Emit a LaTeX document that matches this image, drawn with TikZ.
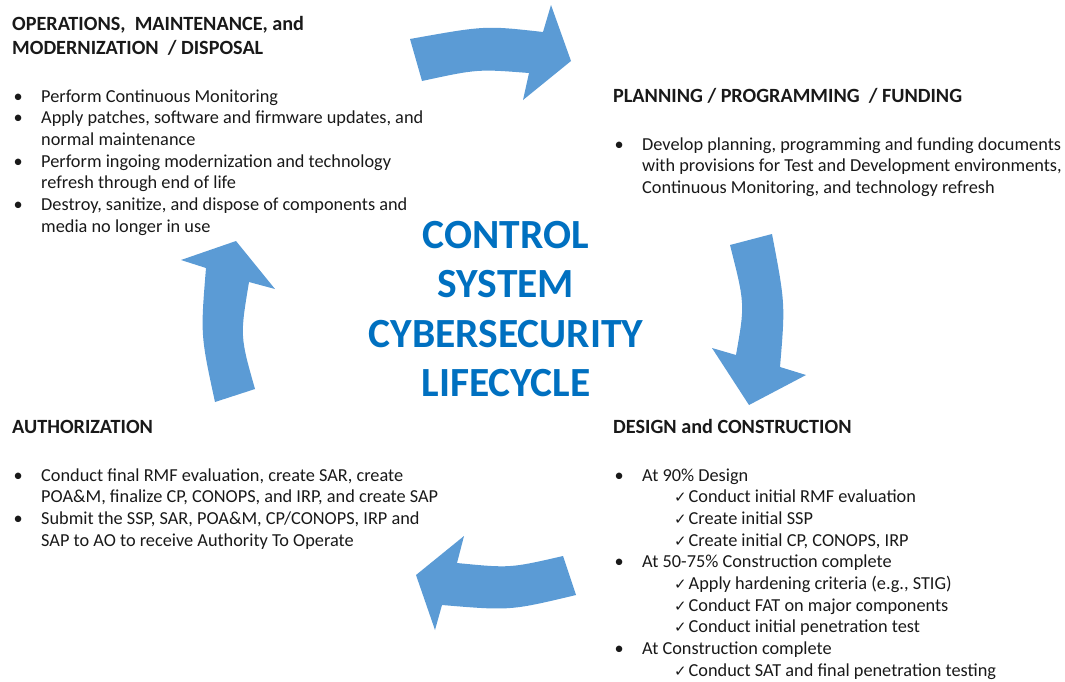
\documentclass[tikz,border=0pt]{standalone}
\usepackage{fontspec}
\setmainfont{Carlito}
\newfontfamily\checkfont{DejaVu Sans}
\definecolor{arrowblue}{HTML}{5B9BD5}
\definecolor{titleblue}{RGB}{0,112,192}
\newcommand{\bul}[1]{\makebox[29pt][l]{\hspace{1.5pt}\textbullet}#1}
\newcommand{\cnt}[1]{\hspace*{29pt}#1}
\newcommand{\chk}[1]{\hspace*{61pt}\makebox[14.5pt][l]{\checkfont\fontsize{15}{15}\selectfont ✓}#1}
\newcommand{\rows}[1]{\begin{tabular}[t]{@{}l@{}}#1\end{tabular}}
\begin{document}
\begin{tikzpicture}[x=1pt,y=-1pt,
  blockarrow/.style={fill=arrowblue,draw=none},
  headtext/.style={anchor=base west,inner sep=0pt,font=\fontsize{20.2}{24}\selectfont\bfseries,text=black!90},
  bodytext/.style={anchor=base west,inner sep=0pt,font=\fontsize{18.3}{21.7}\selectfont,text=black!90},
  titletext/.style={anchor=base,inner sep=0pt,font=\fontsize{41.5}{49.5}\selectfont\bfseries,text=titleblue}]
\useasboundingbox (0,0) rectangle (1065,681);
% arrows
\fill[blockarrow] (410,39) .. controls (485.2,25.5) .. (543,32) -- (551,5) -- (571,61) -- (523,100) -- (529,73)
  .. controls (477.5,69) .. (422,81) -- cycle;
\fill[blockarrow] (730,245) -- (772,234) .. controls (785.3,303.8) .. (780,367) -- (806,375) -- (749,405) -- (712,348) -- (736,355)
  .. controls (745,304) .. (730,245) -- cycle;
\fill[blockarrow] (563,556) -- (576,595) .. controls (510.3,610.7) .. (442,605) -- (435,630) -- (416,575) -- (464,536) -- (457,563)
  .. controls (510,568.2) .. (563,556) -- cycle;
\fill[blockarrow] (215,402) -- (255,389) .. controls (240,336.2) .. (249,282) -- (275,289) -- (236,241) -- (181,260) -- (206,268)
  .. controls (200.5,335) .. (215,402) -- cycle;
% title
\node[titletext] (title) at (506,248) {\begin{tabular}[t]{@{}c@{}}CONTROL\\SYSTEM\\CYBERSECURITY\\LIFECYCLE\end{tabular}};
% top-left block
\node[headtext] (opshead) at (12,30) {\rows{OPERATIONS,\ \ MAINTENANCE, and\\MODERNIZATION\ \ / DISPOSAL}};
\node[bodytext] (opsbody) at (12,102) {\rows{\bul{Perform Continuous Monitoring}\\
\bul{Apply patches, software and firmware updates, and}\\
\cnt{normal maintenance}\\
\bul{Perform ingoing modernization and technology}\\
\cnt{refresh through end of life}\\
\bul{Destroy, sanitize, and dispose of components and}\\
\cnt{media no longer in use}}};
% top-right block
\node[headtext] (planhead) at (613,102) {PLANNING / PROGRAMMING\ \ / FUNDING};
\node[bodytext] (planbody) at (613,150) {\rows{\bul{Develop planning, programming and funding documents}\\
\cnt{with provisions for Test and Development environments,}\\
\cnt{Continuous Monitoring, and technology refresh}}};
% bottom-right block
\node[headtext] (deshead) at (613,433) {DESIGN and CONSTRUCTION};
\node[bodytext] (desbody) at (613,481) {\rows{\bul{At 90\% Design}\\
\chk{Conduct initial RMF evaluation}\\
\chk{Create initial SSP}\\
\chk{Create initial CP, CONOPS, IRP}\\
\bul{At 50-75\% Construction complete}\\
\chk{Apply hardening criteria (e.g., STIG)}\\
\chk{Conduct FAT on major components}\\
\chk{Conduct initial penetration test}\\
\bul{At Construction complete}\\
\chk{Conduct SAT and final penetration testing}}};
% bottom-left block
\node[headtext] (authhead) at (12,433) {AUTHORIZATION};
\node[bodytext] (authbody) at (12,481) {\rows{\bul{Conduct final RMF evaluation, create SAR, create}\\
\cnt{POA\&M, finalize CP, CONOPS, and IRP, and create SAP}\\
\bul{Submit the SSP, SAR, POA\&M, CP/CONOPS, IRP and}\\
\cnt{SAP to AO to receive Authority To Operate}}};
\end{tikzpicture}
\end{document}
